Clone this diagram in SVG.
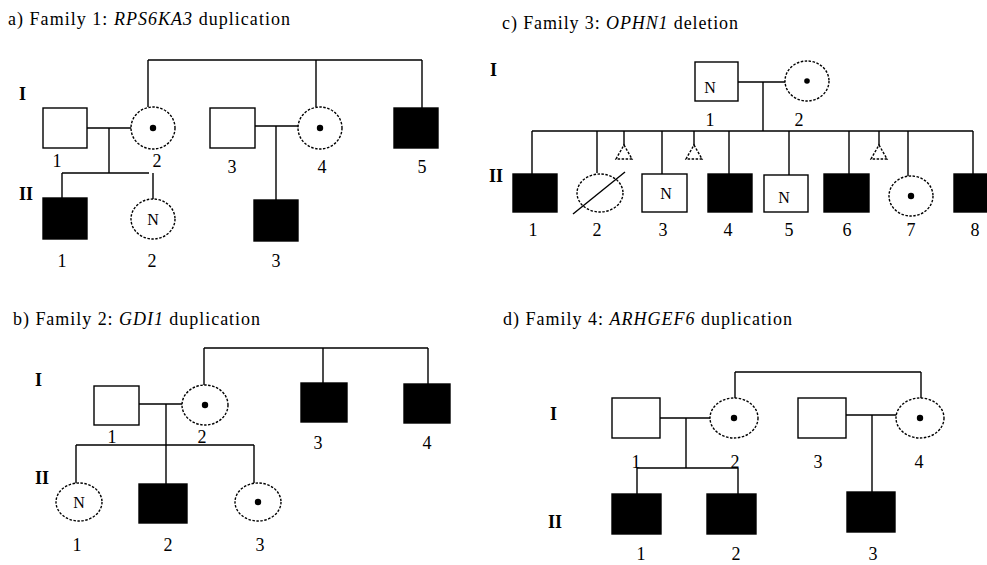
<svg xmlns="http://www.w3.org/2000/svg" width="987" height="565" viewBox="0 0 987 565">
<style>
text{font-family:"Liberation Serif","Times New Roman",serif;fill:#000}
.t{font-size:18px}
.n{font-size:18px;text-anchor:middle}
.g{font-size:18px;font-weight:bold}
.in{font-size:16px;text-anchor:middle}
.m{fill:#fff;stroke:#000;stroke-width:1.4}
.a{fill:#000;stroke:#000;stroke-width:1.4}
.f{fill:#fff;stroke:#000;stroke-width:1.4;stroke-dasharray:2.5 1.5}
.l{stroke:#000;stroke-width:1.4;fill:none}
</style>
<rect width="987" height="565" fill="#fff"/>

<!-- Panel a -->
<text class="t" x="8" y="25" textLength="282" lengthAdjust="spacing">a) Family 1: <tspan font-style="italic">RPS6KA3</tspan> duplication</text>
<text class="g" x="19" y="100">I</text>
<text class="g" x="19" y="200">II</text>
<g id="connectors-a">
<path class="l" d="M148,60H422M148,60V107M316,60V107M422,60V108"/>
<path class="l" d="M87,128H131M109,128V173M62,173H149M62,173V198M153,173V199"/>
<path class="l" d="M255,126H298M276,126V200"/>
</g>
<g id="a-I-1"><rect class="m" x="43" y="108" width="44" height="40"/><text class="n" x="57" y="167">1</text></g>
<g id="a-I-2"><ellipse class="f" cx="153" cy="128" rx="22" ry="21"/><circle cx="153" cy="128" r="3.2"/><text class="n" x="157" y="167">2</text></g>
<g id="a-I-3"><rect class="m" x="210" y="108" width="45" height="40"/><text class="n" x="232" y="173">3</text></g>
<g id="a-I-4"><ellipse class="f" cx="320" cy="128" rx="22" ry="21"/><circle cx="320" cy="128" r="3.2"/><text class="n" x="322" y="173">4</text></g>
<g id="a-I-5"><rect class="a" x="394" y="108" width="44" height="40"/><text class="n" x="422" y="173">5</text></g>
<g id="a-II-1"><rect class="a" x="43" y="198" width="44" height="41"/><text class="n" x="62" y="267">1</text></g>
<g id="a-II-2"><ellipse class="f" cx="153" cy="219" rx="22" ry="20"/><text class="in" x="153" y="225">N</text><text class="n" x="152" y="267">2</text></g>
<g id="a-II-3"><rect class="a" x="254" y="200" width="44" height="41"/><text class="n" x="276" y="267">3</text></g>

<!-- Panel c -->
<text class="t" x="502" y="29" textLength="236" lengthAdjust="spacing">c) Family 3: <tspan font-style="italic">OPHN1</tspan> deletion</text>
<text class="g" x="490" y="76">I</text>
<text class="g" x="489" y="182">II</text>
<g id="connectors-c">
<path class="l" d="M738,82H785M763,82V131M532,131H973"/>
<path class="l" d="M532,131V174M597,131V173M662,131V174M729,131V174M789,131V175M849,131V174M908,131V176M973,131V174"/>
<path class="l" d="M624,131V146M694,131V146M879,131V146"/>
</g>
<g id="c-miscarriages">
<path class="f" d="M624,145L632,159H616Z"/>
<path class="f" d="M694,145L702,159H686Z"/>
<path class="f" d="M879,145L887,159H871Z"/>
</g>
<g id="c-I-1"><rect class="m" x="695" y="62" width="43" height="39"/><text class="in" x="710" y="93">N</text><text class="n" x="710" y="126">1</text></g>
<g id="c-I-2"><ellipse class="f" cx="807" cy="81" rx="22" ry="20"/><circle cx="807" cy="81" r="2.8"/><text class="n" x="799" y="126">2</text></g>
<g id="c-II-1"><rect class="a" x="513" y="174" width="44" height="38"/><text class="n" x="533" y="236">1</text></g>
<g id="c-II-2"><ellipse class="f" cx="600" cy="193" rx="23" ry="19"/><path class="l" d="M573,214L625,172"/><text class="n" x="597" y="236">2</text></g>
<g id="c-II-3"><rect class="m" x="642" y="174" width="45" height="38"/><text class="in" x="666" y="199">N</text><text class="n" x="663" y="236">3</text></g>
<g id="c-II-4"><rect class="a" x="708" y="174" width="44" height="38"/><text class="n" x="728" y="236">4</text></g>
<g id="c-II-5"><rect class="m" x="764" y="175" width="44" height="37"/><text class="in" x="784" y="203">N</text><text class="n" x="789" y="236">5</text></g>
<g id="c-II-6"><rect class="a" x="824" y="174" width="45" height="38"/><text class="n" x="847" y="236">6</text></g>
<g id="c-II-7"><ellipse class="f" cx="911" cy="196" rx="22" ry="20"/><circle cx="911" cy="196" r="3.2"/><text class="n" x="911" y="236">7</text></g>
<g id="c-II-8"><rect class="a" x="954" y="174" width="44" height="38"/><text class="n" x="975" y="236">8</text></g>

<!-- Panel b -->
<text class="t" x="13" y="325" textLength="247" lengthAdjust="spacing">b) Family 2: <tspan font-style="italic">GDI1</tspan> duplication</text>
<text class="g" x="35" y="386">I</text>
<text class="g" x="35" y="484">II</text>
<g id="connectors-b">
<path class="l" d="M204,348H428M204,348V385M323,348V383M428,348V384"/>
<path class="l" d="M139,404H183M166,404V484M76,445H254M76,445V484M254,445V483"/>
</g>
<g id="b-I-1"><rect class="m" x="94" y="386" width="45" height="39"/><text class="n" x="112" y="443">1</text></g>
<g id="b-I-2"><ellipse class="f" cx="205" cy="405" rx="23" ry="20"/><circle cx="205" cy="405" r="3.2"/><text class="n" x="202" y="443">2</text></g>
<g id="b-I-3"><rect class="a" x="301" y="383" width="46" height="39"/><text class="n" x="318" y="449">3</text></g>
<g id="b-I-4"><rect class="a" x="404" y="384" width="46" height="39"/><text class="n" x="427" y="449">4</text></g>
<g id="b-II-1"><ellipse class="f" cx="79" cy="502" rx="23" ry="19"/><text class="in" x="79" y="508">N</text><text class="n" x="77" y="551">1</text></g>
<g id="b-II-2"><rect class="a" x="139" y="484" width="48" height="39"/><text class="n" x="168" y="551">2</text></g>
<g id="b-II-3"><ellipse class="f" cx="258" cy="502" rx="23" ry="19"/><circle cx="258" cy="502" r="3.2"/><text class="n" x="260" y="551">3</text></g>

<!-- Panel d -->
<text class="t" x="503" y="325" textLength="289" lengthAdjust="spacing">d) Family 4: <tspan font-style="italic">ARHGEF6</tspan> duplication</text>
<text class="g" x="550" y="420">I</text>
<text class="g" x="548" y="528">II</text>
<g id="connectors-d">
<path class="l" d="M735,372H921M735,372V398M921,372V398"/>
<path class="l" d="M660,418H710M686,418V468M637,468H738M637,468V494M738,468V494"/>
<path class="l" d="M846,415H897M872,415V492"/>
</g>
<g id="d-I-1"><rect class="m" x="612" y="398" width="48" height="40"/><text class="n" x="636" y="468">1</text></g>
<g id="d-I-2"><ellipse class="f" cx="734" cy="418" rx="24" ry="20"/><circle cx="734" cy="418" r="3.2"/><text class="n" x="735" y="468">2</text></g>
<g id="d-I-3"><rect class="m" x="798" y="398" width="48" height="40"/><text class="n" x="818" y="468">3</text></g>
<g id="d-I-4"><ellipse class="f" cx="920" cy="418" rx="24" ry="20"/><circle cx="920" cy="418" r="3.2"/><text class="n" x="919" y="468">4</text></g>
<g id="d-II-1"><rect class="a" x="612" y="494" width="49" height="40"/><text class="n" x="641" y="560">1</text></g>
<g id="d-II-2"><rect class="a" x="707" y="494" width="49" height="40"/><text class="n" x="736" y="560">2</text></g>
<g id="d-II-3"><rect class="a" x="847" y="492" width="48" height="40"/><text class="n" x="873" y="560">3</text></g>
</svg>
